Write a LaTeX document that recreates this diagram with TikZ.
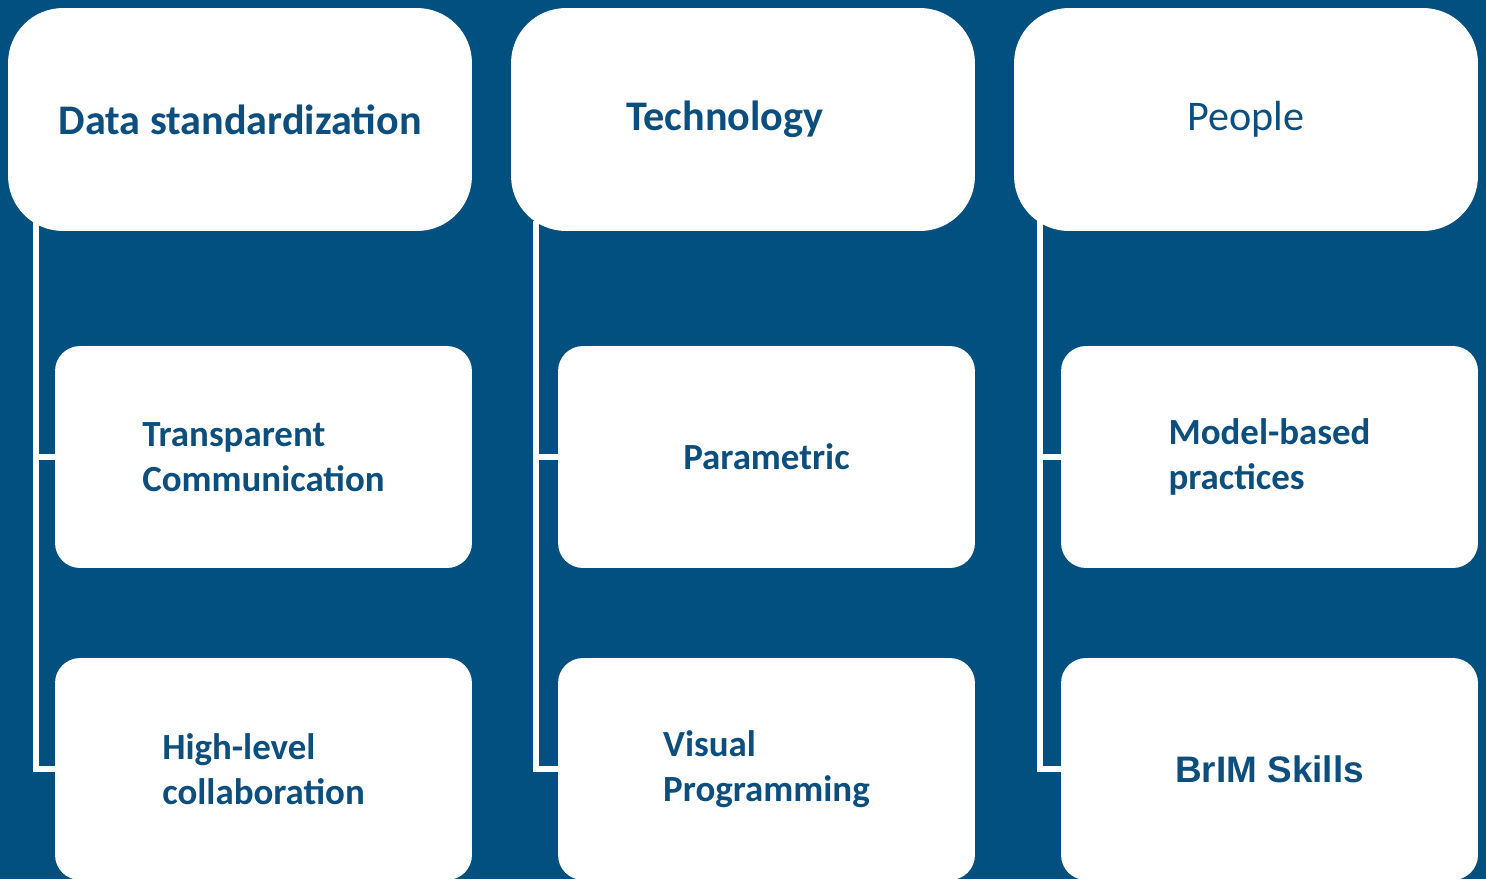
\documentclass[tikz,border=0pt]{standalone}
\usepackage{fontspec}
\setmainfont{Carlito}
\newfontfamily\arialfont{Liberation Sans}
\definecolor{bgblue}{RGB}{1,80,128}
\definecolor{txtblue}{RGB}{12,79,126}
\tikzset{>=stealth,
  head/.style={fill=white, rounded corners=1.1cm, minimum width=9.28cm, minimum height=4.46cm,
    inner sep=0pt, outer sep=0pt, text=txtblue, font=\fontsize{24}{29}\selectfont\bfseries},
  sub/.style={fill=white, rounded corners=0.5cm, minimum width=8.34cm, minimum height=4.44cm,
    inner sep=0pt, outer sep=0pt, align=left, text=txtblue, font=\fontsize{21}{25.5}\selectfont\bfseries},
  conn/.style={draw=white, line width=3pt}}

\begin{document}
\begin{tikzpicture}[x=0.02cm, y=-0.02cm]
    \useasboundingbox (0,0) rectangle (1486,879);
    \fill[bgblue] (0,0) rectangle (1486,879);
    \node[head] (dat) at (240,119.5) {Data standardization};
    \node[head] (tec) at (743,119.5) {Technology\kern0.72cm};
    \node[head] (peo) at (1246,119.5) {\mdseries People};
    \node[sub] (tra) at (263.5,457) {Transparent\\Communication};
    \node[sub] (hig) at (263.5,769) {High-level\\collaboration};
    \node[sub] (par) at (766.5,457) {Parametric};
    \node[sub] (vis) at (766.5,769) {Visual\\Programming};
    \node[sub] (mod) at (1269.5,457) {Model-based\\practices};
    \node[sub] (bri) at (1269.5,769) {\arialfont BrIM Skills};
    \coordinate (d1) at (36,221);
    \coordinate (t1) at (536,221);
    \coordinate (p1) at (1040,221);
    \draw[conn] (d1) |- (tra.west);
    \draw[conn] (d1) |- (hig.west);
    \draw[conn] (t1) |- (par.west);
    \draw[conn] (t1) |- (vis.west);
    \draw[conn] (p1) |- (mod.west);
    \draw[conn] (p1) |- (bri.west);
\end{tikzpicture}
\end{document}
